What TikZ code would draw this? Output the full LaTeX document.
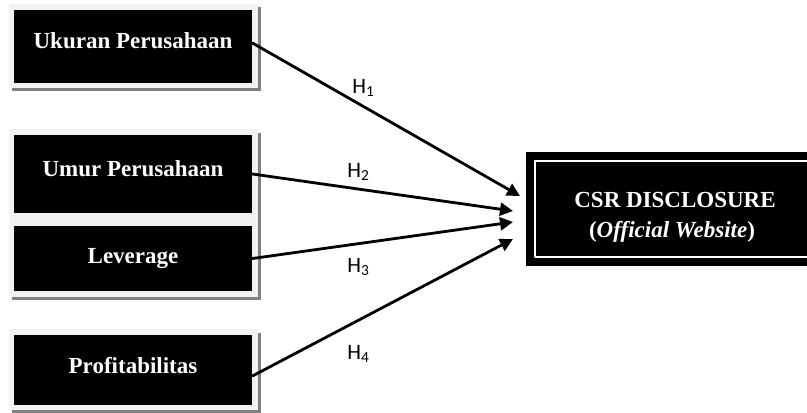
\documentclass[tikz,border=0pt]{standalone}
\usepackage{fontspec}
\setmainfont{Liberation Serif}
\newfontfamily\hfont{Carlito}
\usetikzlibrary{arrows.meta}
\definecolor{framegray}{HTML}{F2F2F2}
\definecolor{shadowgray}{HTML}{808080}

\begin{document}
\begin{tikzpicture}[x=0.5pt,y=-0.5pt, line cap=round, line join=round]
	\clip (0,0) rectangle (807,412);
	\tikzset{
		boxframe/.style={fill=framegray},
		boxshadow/.style={fill=shadowgray},
		varbox/.style={fill=black, minimum width=119pt, inner sep=0pt},
		vartext/.style={white, anchor=base, inner sep=0pt, font=\bfseries\fontsize{11.5}{14}\selectfont},
		hyp/.style={anchor=base west, inner sep=0pt, font=\hfont\fontsize{11}{13}\selectfont},
		arr/.style={line width=1.4pt, -{Triangle[length=6.5pt,width=6.5pt]}}
	}
	
	% ===== bayangan + bingkai =====
	\fill[boxshadow] (12,7) rectangle (261,91);
	\fill[boxframe] (9,4) rectangle (258,88);
	\fill[boxshadow] (12,133) rectangle (261,300);
	\fill[boxframe] (9,129) rectangle (258,297);
	\fill[boxshadow] (12,333) rectangle (261,413);
	\fill[boxframe] (9,329) rectangle (258,410);
	
	% ===== variabel independen =====
	\node[varbox, minimum height=36.5pt] (ukuran) at (133,46.5) {};
	\node[varbox, minimum height=39pt] (umur) at (133,174) {};
	\node[varbox, minimum height=32.5pt] (leverage) at (133,258.5) {};
	\node[varbox, minimum height=35pt] (profit) at (133,370) {};
	
	\node[vartext] (ukuran-t) at (133,48) {Ukuran Perusahaan};
	\node[vartext] (umur-t) at (133,176) {Umur Perusahaan};
	\node[vartext] (leverage-t) at (133,263) {Leverage};
	\node[vartext] (profit-t) at (133,373) {Profitabilitas};
	
	% ===== variabel dependen =====
	\node[fill=black, minimum width=152pt, minimum height=57pt, inner sep=0pt] (csr) at (678,209) {};
	\draw[white, line width=1pt] ([shift={(4.75pt,-4.75pt)}]csr.north west) rectangle ([shift={(-4.75pt,4.75pt)}]csr.south east);
	\node[vartext] (csr-t1) at (675,207) {CSR DISCLOSURE};
	\node[vartext] (csr-t2) at (672,237) {(\textit{Official Website})};
	
	% ===== ujung panah =====
	\coordinate (e1) at (520,196);
	\coordinate (e2) at (513,211);
	\coordinate (e3) at (513,222);
	\coordinate (e4) at (513,239);
	
	% ===== panah hipotesis =====
	\draw[arr] ([yshift=1.75pt]ukuran.east) -- (e1);
	\draw[arr] (umur.east) -- (e2);
	\draw[arr] (leverage.east) -- (e3);
	\draw[arr] ([yshift=-3pt]profit.east) -- (e4);
	
	\node[hyp] (h1) at (352,93) {H\textsubscript{1}};
	\node[hyp] (h2) at (347,177) {H\textsubscript{2}};
	\node[hyp] (h3) at (347,272) {H\textsubscript{3}};
	\node[hyp] (h4) at (347,359) {H\textsubscript{4}};
\end{tikzpicture}
\end{document}
